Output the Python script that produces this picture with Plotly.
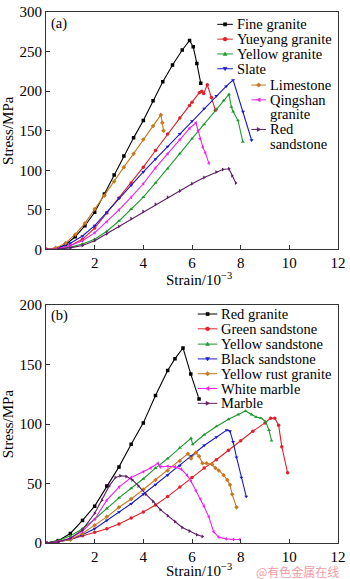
import plotly.graph_objects as go

# ---------------- data (strain in 10^-3, stress in MPa) ----------------
# Panel (a)
fine_granite_x = [0, 0.4, 0.8, 1.2, 1.6, 2.0, 2.4, 2.8, 3.2, 3.6, 4.0, 4.4, 4.8, 5.2, 5.6, 5.9, 6.05, 6.2, 6.36]
fine_granite_y = [0, 1, 6, 16, 30, 47, 70, 94, 118, 141, 163, 188, 212, 233, 252, 264, 256, 235, 210]

yueyang_x = [0, 0.5, 1.0, 1.5, 2.0, 2.5, 3.0, 3.5, 4.0, 4.5, 5.0, 5.5, 5.9, 6.0, 6.3, 6.4, 6.48, 6.63, 6.8, 6.96]
yueyang_y = [0, 1, 5, 13, 27, 46, 65, 84, 104, 125, 146, 166, 182, 186, 198, 200, 197, 208, 192, 176]

yellow_granite_x = [0, 0.5, 1.0, 1.5, 2.0, 2.5, 3.0, 3.5, 4.0, 4.5, 5.0, 5.5, 6.0, 6.5, 7.0, 7.3, 7.52, 7.62, 7.69, 7.89, 8.09]
yellow_granite_y = [0, 1, 3, 7, 13, 23, 36, 51, 66, 84, 102, 121, 140, 158, 177, 188, 196, 180, 174, 163, 136]

slate_x = [0, 0.5, 1.0, 1.5, 2.0, 2.5, 3.0, 3.5, 4.0, 4.5, 5.0, 5.5, 6.0, 6.5, 7.0, 7.4, 7.69, 8.1, 8.45]
slate_y = [0, 2, 8, 17, 30, 47, 65, 81, 98, 114, 130, 146, 162, 178, 194, 206, 214, 174, 138]

limestone_x = [0, 0.4, 0.8, 1.2, 1.6, 2.0, 2.4, 2.8, 3.2, 3.6, 4.0, 4.4, 4.72, 4.78, 4.83]
limestone_y = [0, 2, 8, 19, 33, 51, 68, 86, 104, 121, 139, 156, 170, 160, 150]

qingshan_x = [0, 0.5, 1.0, 1.5, 2.0, 2.5, 3.0, 3.5, 4.0, 4.5, 5.0, 5.5, 5.9, 6.16, 6.25, 6.33, 6.45, 6.55, 6.69]
qingshan_y = [0, 1, 5, 11, 21, 35, 50, 66, 83, 103, 121, 139, 153, 160, 150, 140, 129, 122, 109]

red_sandstone_x = [0, 0.5, 1.0, 1.5, 2.0, 2.5, 3.0, 3.5, 4.0, 4.5, 5.0, 5.5, 6.0, 6.5, 7.0, 7.27, 7.52, 7.65, 7.8]
red_sandstone_y = [0, 0.5, 2, 5, 11, 20, 29, 39, 48, 57, 66, 74, 83, 91, 98, 101, 102, 93, 84]

# Panel (b)
red_granite_x = [0, 0.5, 1.0, 1.5, 2.0, 2.5, 3.0, 3.5, 4.0, 4.5, 5.0, 5.3, 5.63, 5.95, 6.29]
red_granite_y = [0, 2, 8, 19, 31, 48, 64, 83, 101, 124, 145, 155, 164, 142, 121]

green_sandstone_x = [0, 0.5, 1.0, 1.5, 2.0, 2.5, 3.0, 3.5, 4.0, 4.5, 5.0, 5.5, 6.0, 6.5, 7.0, 7.5, 8.0, 8.5, 9.0, 9.23, 9.4, 9.56, 9.69, 9.93]
green_sandstone_y = [0, 1, 3, 6, 9, 12, 16, 21, 26, 32, 39, 47, 55, 63, 70, 78, 86, 94, 101, 105, 105, 99, 81, 59]

yellow_sandstone_x = [0, 0.5, 1.0, 1.5, 2.0, 2.5, 3.0, 3.5, 4.0, 4.5, 5.0, 5.5, 5.96, 6.03, 6.5, 7.0, 7.5, 7.9, 8.2, 8.45, 8.63, 8.83, 9.03, 9.16, 9.27]
yellow_sandstone_y = [0, 2, 6, 12, 20, 29, 38, 46, 54, 63, 71, 80, 88, 83, 91, 98, 104, 108, 111, 108, 106, 105, 102, 95, 86]

black_sandstone_x = [0, 0.5, 1.0, 1.5, 2.0, 2.5, 3.0, 3.5, 4.0, 4.5, 5.0, 5.5, 5.96, 6.5, 7.0, 7.43, 7.56, 7.69, 7.83, 8.03, 8.23]
black_sandstone_y = [0, 1, 3, 7, 12, 19, 26, 33, 41, 49, 57, 65, 73, 82, 89, 95, 94, 85, 72, 55, 39]

yellow_rust_x = [0, 0.5, 1.0, 1.5, 2.0, 2.5, 3.0, 3.5, 4.0, 4.5, 5.0, 5.5, 5.83, 5.96, 6.16, 6.29, 6.43, 6.6, 6.83, 6.96, 7.1, 7.3, 7.45, 7.56, 7.65, 7.83]
yellow_rust_y = [0, 1, 3, 8, 15, 22, 30, 37, 45, 53, 61, 69, 75, 71, 76, 73, 67, 67, 66, 63, 61, 57, 53, 49, 41, 30]

white_marble_x = [0, 0.5, 1.0, 1.5, 2.0, 2.5, 3.0, 3.5, 4.0, 4.3, 4.6, 4.7, 5.0, 5.3, 5.56, 5.8, 5.96, 6.16, 6.35, 6.49, 6.69, 6.89, 7.09, 7.4, 7.7, 7.96]
white_marble_y = [0, 1, 4, 10, 20, 36, 47, 55, 60, 63, 67, 64, 64.5, 64, 62, 57, 52, 44, 37, 31, 22, 9.5, 5, 3.5, 3, 3]

marble_x = [0, 0.5, 1.0, 1.5, 2.0, 2.3, 2.6, 2.85, 3.05, 3.3, 3.55, 3.8, 4.1, 4.4, 4.7, 5.0, 5.3, 5.6, 5.9, 6.2, 6.43]
marble_y = [0, 1, 4, 11, 25, 36, 48, 55, 56.5, 56, 53, 48, 41, 35, 28, 23, 18, 13, 10, 7, 5.5]

x_ticks = [2, 4, 6, 8, 10, 12]
y_ticks_a = [0, 50, 100, 150, 200, 250, 300]
y_ticks_b = [0, 50, 100, 150, 200]

# ---------------- styling ----------------
BLACK = "#000000"
RED = "#E0202A"
GREEN = "#1E9A2E"
BLUE = "#1A1ACC"
ORANGE = "#C8781E"
MAGENTA = "#EE22EE"
PURPLE = "#5E1E66"

series_a = [
    ("Fine granite", fine_granite_x, fine_granite_y, BLACK, "square"),
    ("Yueyang granite", yueyang_x, yueyang_y, RED, "circle"),
    ("Yellow granite", yellow_granite_x, yellow_granite_y, GREEN, "triangle-up"),
    ("Slate", slate_x, slate_y, BLUE, "triangle-down"),
    ("Limestone", limestone_x, limestone_y, ORANGE, "diamond"),
    ("Qingshan granite", qingshan_x, qingshan_y, MAGENTA, "triangle-left"),
    ("Red sandstone", red_sandstone_x, red_sandstone_y, PURPLE, "triangle-right"),
]
series_b = [
    ("Red granite", red_granite_x, red_granite_y, BLACK, "square"),
    ("Green sandstone", green_sandstone_x, green_sandstone_y, RED, "circle"),
    ("Yellow sandstone", yellow_sandstone_x, yellow_sandstone_y, GREEN, "triangle-up"),
    ("Black sandstone", black_sandstone_x, black_sandstone_y, BLUE, "triangle-down"),
    ("Yellow rust granite", yellow_rust_x, yellow_rust_y, ORANGE, "diamond"),
    ("White marble", white_marble_x, white_marble_y, MAGENTA, "triangle-left"),
    ("Marble", marble_x, marble_y, PURPLE, "triangle-right"),
]

FONT = "Liberation Serif"
W, H = 350, 579
ML, MR, MT, MB = 46, 4, 5, 36
PW = W - ML - MR
PH = H - MT - MB


def px2paper_x(px):
    return (px - ML) / PW


def px2paper_y(py):
    return (H - MB - py) / PH


fig = go.Figure()
for name, xs, ys, col, sym in series_a:
    fig.add_trace(go.Scatter(x=xs, y=ys, mode="lines+markers", name=name,
                             line=dict(color=col, width=1.1),
                             marker=dict(symbol=sym, size=3.5, color=col),
                             xaxis="x", yaxis="y", showlegend=False))
for name, xs, ys, col, sym in series_b:
    fig.add_trace(go.Scatter(x=xs, y=ys, mode="lines+markers", name=name,
                             line=dict(color=col, width=1.1),
                             marker=dict(symbol=sym, size=3.5, color=col),
                             xaxis="x2", yaxis="y2", showlegend=False))

axis_common = dict(showline=True, linecolor="#333333", linewidth=1, mirror=True,
                   ticks="inside", ticklen=4, tickcolor="#333333", showgrid=False,
                   zeroline=False, ticklabeloverflow="allow",
                   tickfont=dict(family=FONT, size=15, color="black"))

top_bottom = px2paper_y(245.6)
bot_top = px2paper_y(302)

fig.update_layout(
    width=W, height=H,
    margin=dict(l=ML, r=MR, t=MT, b=MB),
    paper_bgcolor="white", plot_bgcolor="white",
    font=dict(family=FONT, size=15, color="black"),
    xaxis=dict(domain=[0, 1], anchor="y", range=[0, 12], tickvals=x_ticks, **axis_common),
    yaxis=dict(domain=[top_bottom, 1], anchor="x", range=[0, 300], tickvals=y_ticks_a,
               title=dict(text="Stress/MPa", font=dict(family=FONT, size=15), standoff=4),
               **axis_common),
    xaxis2=dict(domain=[0, 1], anchor="y2", range=[0, 12], tickvals=x_ticks, **axis_common),
    yaxis2=dict(domain=[0, bot_top], anchor="x2", range=[0, 200], tickvals=y_ticks_b,
                title=dict(text="Stress/MPa", font=dict(family=FONT, size=15), standoff=4),
                **axis_common),
    showlegend=False,
)

annotations = []
shapes = []

# x-axis titles
for ty in (276, 570):
    annotations.append(dict(text="Strain/10<sup>−3</sup>", x=px2paper_x(167), y=px2paper_y(ty),
                            xref="paper", yref="paper", xanchor="left", yanchor="middle",
                            showarrow=False, font=dict(family=FONT, size=15, color="black")))

# panel labels
annotations.append(dict(text="(a)", x=px2paper_x(49), y=px2paper_y(17), xref="paper", yref="paper",
                        xanchor="left", yanchor="middle", showarrow=False,
                        font=dict(family=FONT, size=14.5, color="black")))
annotations.append(dict(text="(b)", x=px2paper_x(49), y=px2paper_y(313), xref="paper", yref="paper",
                        xanchor="left", yanchor="middle", showarrow=False,
                        font=dict(family=FONT, size=14.5, color="black")))

MARKER_PATHS = {
    "square": "M-1.6,-1.6 L1.6,-1.6 L1.6,1.6 L-1.6,1.6 Z",
    "circle": "M-1.9,-0.8 L-0.8,-1.9 L0.8,-1.9 L1.9,-0.8 L1.9,0.8 L0.8,1.9 L-0.8,1.9 L-1.9,0.8 Z",
    "triangle-up": "M0,2 L-2,-1.5 L2,-1.5 Z",
    "triangle-down": "M0,-2 L-2,1.5 L2,1.5 Z",
    "diamond": "M0,-2.2 L2.2,0 L0,2.2 L-2.2,0 Z",
    "triangle-left": "M-2,0 L1.5,-2 L1.5,2 Z",
    "triangle-right": "M2,0 L-1.5,-2 L-1.5,2 Z",
}


def legend_entry(lines, col, sym, x0, x1, xt, y_first, line_gap=14.5):
    yc = px2paper_y(y_first)
    shapes.append(dict(type="line", xref="paper", yref="paper",
                       x0=px2paper_x(x0), x1=px2paper_x(x1), y0=yc, y1=yc,
                       line=dict(color=col, width=1)))
    shapes.append(dict(type="path", xref="paper", yref="paper",
                       xsizemode="pixel", ysizemode="pixel",
                       xanchor=px2paper_x((x0 + x1) / 2), yanchor=yc,
                       path=MARKER_PATHS[sym], fillcolor=col, line=dict(color=col, width=0.5)))
    for i, t in enumerate(lines):
        annotations.append(dict(text=t, x=px2paper_x(xt), y=px2paper_y(y_first + i * line_gap),
                                xref="paper", yref="paper", xanchor="left", yanchor="middle",
                                showarrow=False, font=dict(family=FONT, size=14.5, color="black")))


# legend (a)
legend_a_rows = [17.5, 32.5, 47.5, 62.5, 79, 94, 124]
legend_a_lines = [["Fine granite"], ["Yueyang granite"], ["Yellow granite"], ["Slate"],
                  ["Limestone"], ["Qingshan", "granite"], ["Red", "sandstone"]]
for k, (name, xs, ys, col, sym) in enumerate(series_a):
    if k < 4:
        legend_entry(legend_a_lines[k], col, sym, 222, 238, 240, legend_a_rows[k])
    else:
        legend_entry(legend_a_lines[k], col, sym, 257, 272, 274, legend_a_rows[k])

# legend (b)
legend_b_rows = [311, 326, 341.5, 356.5, 371.5, 386.5, 401.5]
for k, (name, xs, ys, col, sym) in enumerate(series_b):
    legend_entry([name], col, sym, 202, 222, 224, legend_b_rows[k])

# watermark
annotations.append(dict(text="@有色金属在线", x=px2paper_x(349), y=px2paper_y(572), xref="paper", yref="paper",
                        xanchor="right", yanchor="middle", showarrow=False,
                        font=dict(family="Noto Sans CJK SC", size=12, color="#F29AA6")))

fig.update_layout(annotations=annotations, shapes=shapes)
fig.write_html("out.html")
